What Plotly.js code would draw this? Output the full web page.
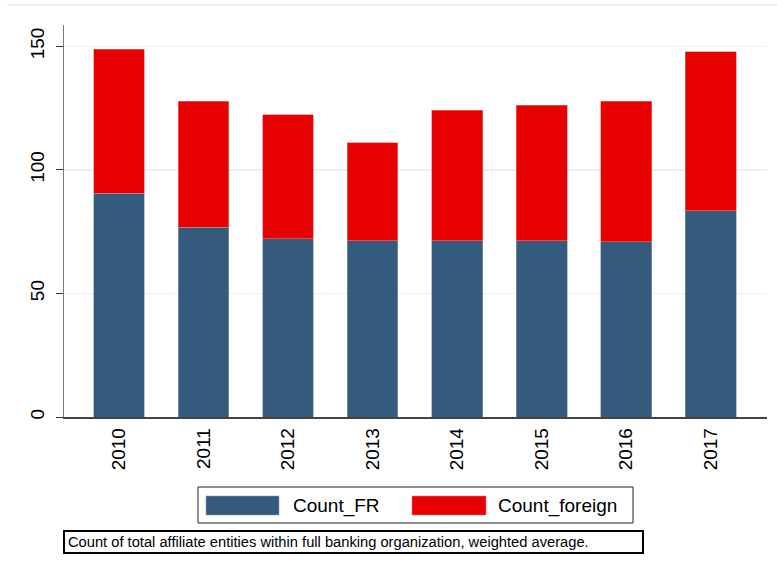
<!DOCTYPE html>
<html>
<head>
<meta charset="utf-8">
<script src="https://cdn.plot.ly/plotly-3.0.1.min.js"></script>
<style>html,body{margin:0;padding:0;background:#fff;}#chart{width:777px;height:569px;}</style>
</head>
<body>
<div id="chart"></div>
<script>
const years = ['2010','2011','2012','2013','2014','2015','2016','2017'];
const countFR = [90.6, 76.8, 72.2, 71.4, 71.3, 71.3, 71.0, 83.4];
const countForeign = [58.2, 51.0, 50.0, 39.5, 52.8, 54.9, 56.8, 64.3];
const seriesNames = ['Count_FR', 'Count_foreign'];
const seriesColors = ['#345a7e', '#e60000'];
const noteText = 'Count of total affiliate entities within full banking organization, weighted average.';

const W = 777, H = 569;
const M = {l: 64, r: 10, t: 25, b: 152};
const PW = W - M.l - M.r, PH = H - M.t - M.b;
const px = x => (x - M.l) / PW;
const py = y => (H - M.b - y) / PH;

const FONT = 'Liberation Sans, Arial, sans-serif';

const traces = [
  {type: 'bar', x: years, y: countFR, name: seriesNames[0],
   marker: {color: seriesColors[0], line: {color: '#8aa0b6', width: 0.6}}},
  {type: 'bar', x: years, y: countForeign, name: seriesNames[1],
   marker: {color: seriesColors[1], line: {color: '#f27777', width: 0.6}}}
];

const shapes = [
  {type: 'line', xref: 'paper', yref: 'paper', x0: px(7), x1: px(777), y0: py(5), y1: py(5),
   line: {color: '#e8eef0', width: 1.5}},
  {type: 'rect', xref: 'paper', yref: 'paper', x0: px(198), x1: px(633), y0: py(523), y1: py(487),
   line: {color: '#222', width: 1}, fillcolor: 'rgba(0,0,0,0)'},
  {type: 'rect', xref: 'paper', yref: 'paper', x0: px(206), x1: px(279), y0: py(515), y1: py(496),
   line: {color: '#8aa0b6', width: 0.6}, fillcolor: seriesColors[0]},
  {type: 'rect', xref: 'paper', yref: 'paper', x0: px(412), x1: px(486), y0: py(515), y1: py(496),
   line: {color: '#f27777', width: 0.6}, fillcolor: seriesColors[1]},
  {type: 'rect', xref: 'paper', yref: 'paper', x0: px(64), x1: px(643), y0: py(553), y1: py(531),
   line: {color: '#000', width: 2}, fillcolor: 'rgba(0,0,0,0)'}
];

const annotations = [
  {xref: 'paper', yref: 'paper', x: px(291), y: py(506), xanchor: 'left', yanchor: 'middle',
   text: seriesNames[0], showarrow: false, font: {family: FONT, size: 19, color: '#000'}},
  {xref: 'paper', yref: 'paper', x: px(496), y: py(506), xanchor: 'left', yanchor: 'middle',
   text: seriesNames[1], showarrow: false, font: {family: FONT, size: 19, color: '#000'}},
  {xref: 'paper', yref: 'paper', x: px(66), y: py(542), xanchor: 'left', yanchor: 'middle',
   text: noteText, showarrow: false, font: {family: FONT, size: 14.7, color: '#000'}}
];

const layout = {
  width: W, height: H,
  margin: M,
  paper_bgcolor: '#fff', plot_bgcolor: '#fff',
  barmode: 'stack',
  bargap: 0.4,
  showlegend: false,
  font: {family: FONT, color: '#000', size: 19},
  xaxis: {
    type: 'category', range: [-0.65, 7.665],
    tickangle: -90, ticks: '', showgrid: false,
    showline: true, linecolor: '#444', linewidth: 1.5,
    tickfont: {family: FONT, size: 19, color: '#000'},
    ticklabelstandoff: 2
  },
  yaxis: {
    range: [0, 158.6], tickvals: [0, 50, 100, 150],
    tickangle: -90, ticks: 'outside', ticklen: 7, tickcolor: '#333', tickwidth: 1,
    showline: true, linecolor: '#777', linewidth: 1.5,
    showgrid: true, gridcolor: '#eaf1f3', gridwidth: 1.5,
    zeroline: false,
    tickfont: {family: FONT, size: 19, color: '#000'},
    ticklabelstandoff: 4
  },
  shapes: shapes,
  annotations: annotations
};

Plotly.newPlot('chart', traces, layout, {displayModeBar: false, staticPlot: true});
</script>
</body>
</html>
